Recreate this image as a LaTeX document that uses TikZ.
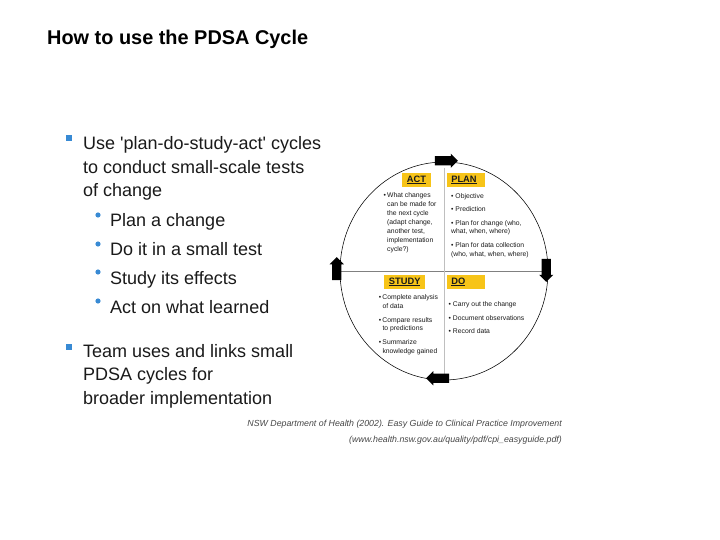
\documentclass[tikz,border=0pt]{standalone}
\usepackage{fontspec}
\setmainfont{Liberation Sans}
\usetikzlibrary{shapes.geometric,shapes.arrows,positioning}
\definecolor{pdsagold}{RGB}{247,196,24}
\definecolor{bulletblue}{RGB}{56,138,212}
\definecolor{bodygray}{RGB}{26,26,26}
\definecolor{citegray}{RGB}{70,70,70}

\begin{document}
\begin{tikzpicture}[
    x=1pt, y=-1pt,
    bodytext/.style={anchor=base west, inner sep=0pt, align=left, text=bodygray, font=\fontsize{18}{23.3}\selectfont},
    phase/.style={rectangle, fill=pdsagold, inner xsep=4.5pt, inner ysep=0pt, minimum height=14.6pt, align=left, text=bodygray, font=\bfseries\fontsize{9.3}{10}\selectfont},
    small/.style={anchor=base west, inner sep=0pt, align=left, text=bodygray, font=\fontsize{6.8}{8.6}\selectfont},
    turn/.style={single arrow, fill=black, inner sep=4.5pt, minimum height=23pt, single arrow head extend=2.4pt},
    sqbullet/.style={rectangle, fill=bulletblue, inner sep=0pt, minimum size=6.5pt}
]
    \path[use as bounding box, fill=white] (0,0) rectangle (720,540);

    % Title
    \node[anchor=base west, inner sep=0pt, font=\bfseries\fontsize{19.9}{22}\selectfont] (title) at (47,45) {How to use the PDSA Cycle};

    % Left bullets (multi-line nodes sit on their last baseline)
    \node[sqbullet] (sq1) at (69,138) {};
    \node[bodytext] (use) at (83,196.5) {Use \textquotesingle plan-do-study-act\textquotesingle{} cycles\\to conduct small-scale tests\\of change};
    \node[bodytext, font=\fontsize{18}{29}\selectfont] (steps) at (110,313) {Plan a change\\Do it in a small test\\Study its effects\\Act on what learned};
    \foreach \y in {215,244,272,301}
        \fill[bulletblue] (98,\y) circle (2.6pt);
    \node[sqbullet] (sq2) at (69,347) {};
    \node[bodytext] (team) at (83,404) {Team uses and links small\\PDSA cycles for\\broader implementation};

    % Cycle
    \node[ellipse, draw, line width=0.55pt, minimum width=208pt, minimum height=218pt] (cycle) at (444,271) {};
    \draw[gray, line width=0.6pt] (cycle.west) -- (cycle.east);
    \draw[black!25, line width=0.5pt, shorten <=6pt, shorten >=5pt] (cycle.north) -- (cycle.south);

    % Arrows on the cycle
    \node[turn] (toplan) at ([yshift=1pt]cycle.north) {};
    \node[turn, shape border rotate=270, xshift=-2pt, yshift=3pt] (todo) at (cycle.east) {};
    \node[turn, shape border rotate=180, xshift=-4pt, yshift=2pt] (tostudy) at (cycle.south) {};
    \node[turn, shape border rotate=90, xshift=-3pt] (toact) at (cycle.west) {};

    % Phase labels
    \node[phase, minimum width=27pt] (act) at (416.5,180) {\underline{ACT}};
    \node[phase, minimum width=38.3pt, text width=29.3pt] (plan) at (466,180) {\underline{PLAN}};
    \node[phase, minimum width=37.3pt] (study) at (404.7,281.8) {\underline{STUDY}};
    \node[phase, minimum width=38.3pt, text width=29.3pt] (do) at (466,281.8) {\underline{DO}};

    % Phase contents
    \node[small, font=\fontsize{6.8}{9.05}\selectfont] (actlist) at (387,251.3) {\llap{\textbullet\,}What changes\\can be made for\\the next cycle\\(adapt change,\\another test,\\implementation\\cycle?)};
    \node[small] (planlist) at (451,256.3) {\textbullet\ Objective\\[4.7pt]\textbullet\ Prediction\\[4.7pt]\textbullet\ Plan for change (who,\\what, when, where)\\[5.4pt]\textbullet\ Plan for data collection\\(who, what, when, where)};
    \node[small] (studylist) at (382.3,353.5) {\llap{\textbullet\,}Complete analysis\\of data\\[5.4pt]\llap{\textbullet\,}Compare results\\to predictions\\[5.4pt]\llap{\textbullet\,}Summarize\\knowledge gained};
    \node[small, font=\fontsize{6.8}{13.5}\selectfont] (dolist) at (448.5,333.5) {\textbullet\ Carry out the change\\\textbullet\ Document observations\\\textbullet\ Record data};

    % Source
    \node[anchor=base east, inner sep=0pt, align=right, text=citegray, font=\itshape\fontsize{8.8}{16}\selectfont] (source) at (562,442) {NSW Department of Health (2002). Easy Guide to Clinical Practice Improvement\\(www.health.nsw.gov.au/quality/pdf/cpi\_easyguide.pdf)};
\end{tikzpicture}
\end{document}
